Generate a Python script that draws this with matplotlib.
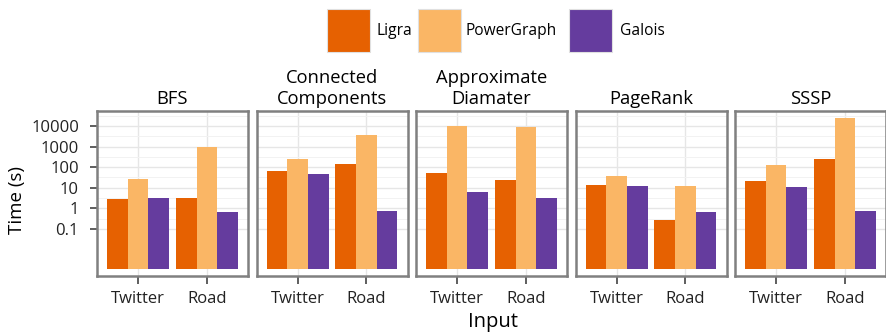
import matplotlib
matplotlib.use('Agg')
import matplotlib.pyplot as plt
import numpy as np
from matplotlib.patches import Rectangle
from matplotlib.ticker import FixedLocator, NullFormatter

# ---- data ----
algorithms = ["BFS", "Connected\nComponents", "Approximate\nDiamater", "PageRank", "SSSP"]
inputs = ["Twitter", "Road"]
systems = ["Ligra", "PowerGraph", "Galois"]
# per algorithm: [Twitter, Road]
ligra_times = [[2.8, 3.3], [68, 150], [55, 24], [13.7, 0.26], [21, 263]]
powergraph_times = [[28, 1000], [245, 3600], [9500, 8900], [36, 12.6], [125, 23500]]
galois_times = [[3.1, 0.64], [47, 0.76], [6.5, 3.2], [12.6, 0.64], [10.5, 0.76]]
y_ticks = [0.1, 1, 10, 100, 1000, 10000]
y_tick_labels = ["0.1", "1", "10", "100", "1000", "10000"]

colors = ["#E66101", "#FAB665", "#653C9E"]
series = [ligra_times, powergraph_times, galois_times]

FONT = "Open Sans"
plt.rcParams['font.family'] = [FONT, 'DejaVu Sans']

W, H = 886, 336
fig = plt.figure(figsize=(W / 100, H / 100), dpi=100)

base = 10 ** -2.93
ylim = (10 ** -3.29, 10 ** 4.73)

panel_left = 97
panel_w = 151
gap = 8.5
panel_top = 111
panel_bot = 276

axes = []
for i, alg in enumerate(algorithms):
    l = panel_left + i * (panel_w + gap)
    ax = fig.add_axes([l / W, 1 - panel_bot / H, panel_w / W, (panel_bot - panel_top) / H])
    axes.append(ax)
    ax.set_yscale('log')
    ax.set_xlim(0.4, 2.6)
    ax.set_ylim(*ylim)
    x = np.arange(1, len(inputs) + 1)
    bw = 0.3
    for s, (vals, col) in enumerate(zip(series, colors)):
        h = np.array(vals[i], dtype=float)
        ax.bar(x + (s - 1) * bw, h - base, bottom=base, width=bw, color=col,
               edgecolor='none', zorder=3)
    # grid
    ax.yaxis.set_major_locator(FixedLocator(y_ticks))
    minor = [10 ** (k + 0.5) for k in range(-1, 5)]
    ax.yaxis.set_minor_locator(FixedLocator(minor))
    ax.yaxis.set_minor_formatter(NullFormatter())
    ax.grid(which='major', axis='both', color='#e6e6e6', lw=1.0, zorder=0)
    ax.grid(which='minor', axis='y', color='#f2f2f2', lw=0.7, zorder=0)
    ax.set_xticks(x)
    ax.set_xticklabels(inputs, fontsize=12, color='#222222')
    ax.tick_params(axis='x', length=6, width=1.1, color='#333333', pad=5)
    ax.tick_params(axis='y', which='minor', length=0)
    if i == 0:
        ax.set_yticklabels(y_tick_labels, fontsize=12, color='#222222')
        ax.tick_params(axis='y', which='major', length=5, width=1.1, color='#333333', pad=8)
    else:
        ax.tick_params(axis='y', which='major', length=0, labelleft=False)
    for sp in ax.spines.values():
        sp.set_color('#808080')
        sp.set_linewidth(1.8)
        sp.set_zorder(5)
    ax.set_title(alg, fontsize=13.2, pad=5, linespacing=1.2)

# axis labels
fig.text(17 / W, 1 - 200 / H, "Time (s)", rotation=90, ha='center', va='center', fontsize=13.5)
fig.text(493 / W, 1 - 322 / H, "Input", ha='center', va='center', fontsize=14.5)

# legend
leg_items = [(327, 377), (418, 466), (569, 620)]
sq = 43
for (sx, tx), name, col in zip(leg_items, systems, colors):
    fig.patches.append(Rectangle((sx / W, 1 - 52 / H), sq / W, sq / H,
                                 transform=fig.transFigure, facecolor=col,
                                 edgecolor='#e0e0e0', lw=0.8))
    fig.text(tx / W, 1 - 31 / H, name, ha='left', va='center', fontsize=11.2)

fig.savefig('out.png', dpi=100, facecolor='white')
